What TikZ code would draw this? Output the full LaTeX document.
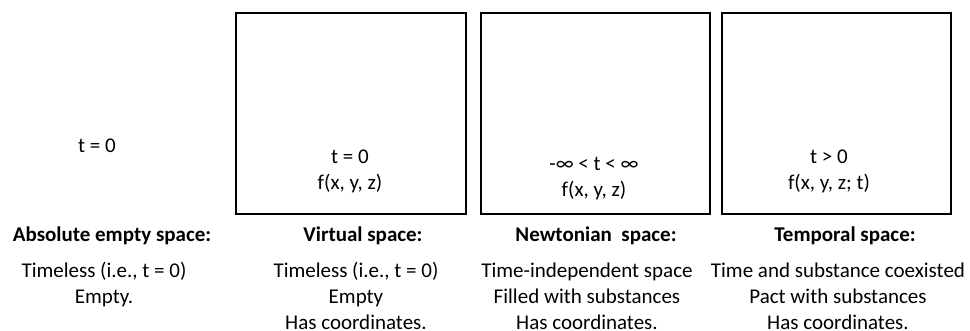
\documentclass[tikz,border=0pt]{standalone}
\usepackage{fontspec}
\setmainfont{Carlito}
\begin{document}
\begin{tikzpicture}[x=1pt,y=-1pt,
  panel/.style={draw=black,line width=2.6pt},
  txt/.style={inner sep=0pt,font=\fontsize{21}{26}\selectfont,align=center,anchor=base},
  head/.style={txt,font=\fontsize{21}{26}\selectfont\bfseries}]
\useasboundingbox (0,0) rectangle (970,330);
\draw[panel] (236,13) rectangle (466,214);
\draw[panel] (481,13) rectangle (710,214);
\draw[panel] (722,13) rectangle (951,214);
\node[txt] (t0) at (97,152) {t = 0};
\node[txt] (b1) at (350,189) {t = 0\\f(x, y, z)};
\node[txt] (b2) at (594,196) {-∞ < t < ∞\\f(x, y, z)};
\node[txt] (b3) at (829,189) {t > 0\\f(x, y, z; t)};
\node[head] (h1) at (112,241) {Absolute empty space:};
\node[head] (h2) at (363,241) {Virtual space:};
\node[head] (h3) at (596,241) {Newtonian\ \ space:};
\node[head] (h4) at (845,241) {Temporal space:};
\node[txt] (d1) at (104,303) {Timeless (i.e., t = 0)\\Empty.};
\node[txt] (d2) at (356,329) {Timeless (i.e., t = 0)\\Empty\\Has coordinates.};
\node[txt] (d3) at (587,329) {Time-independent space\\Filled with substances\\Has coordinates.};
\node[txt] (d4) at (838,329) {Time and substance coexisted\\Pact with substances\\Has coordinates.};
\end{tikzpicture}
\end{document}
